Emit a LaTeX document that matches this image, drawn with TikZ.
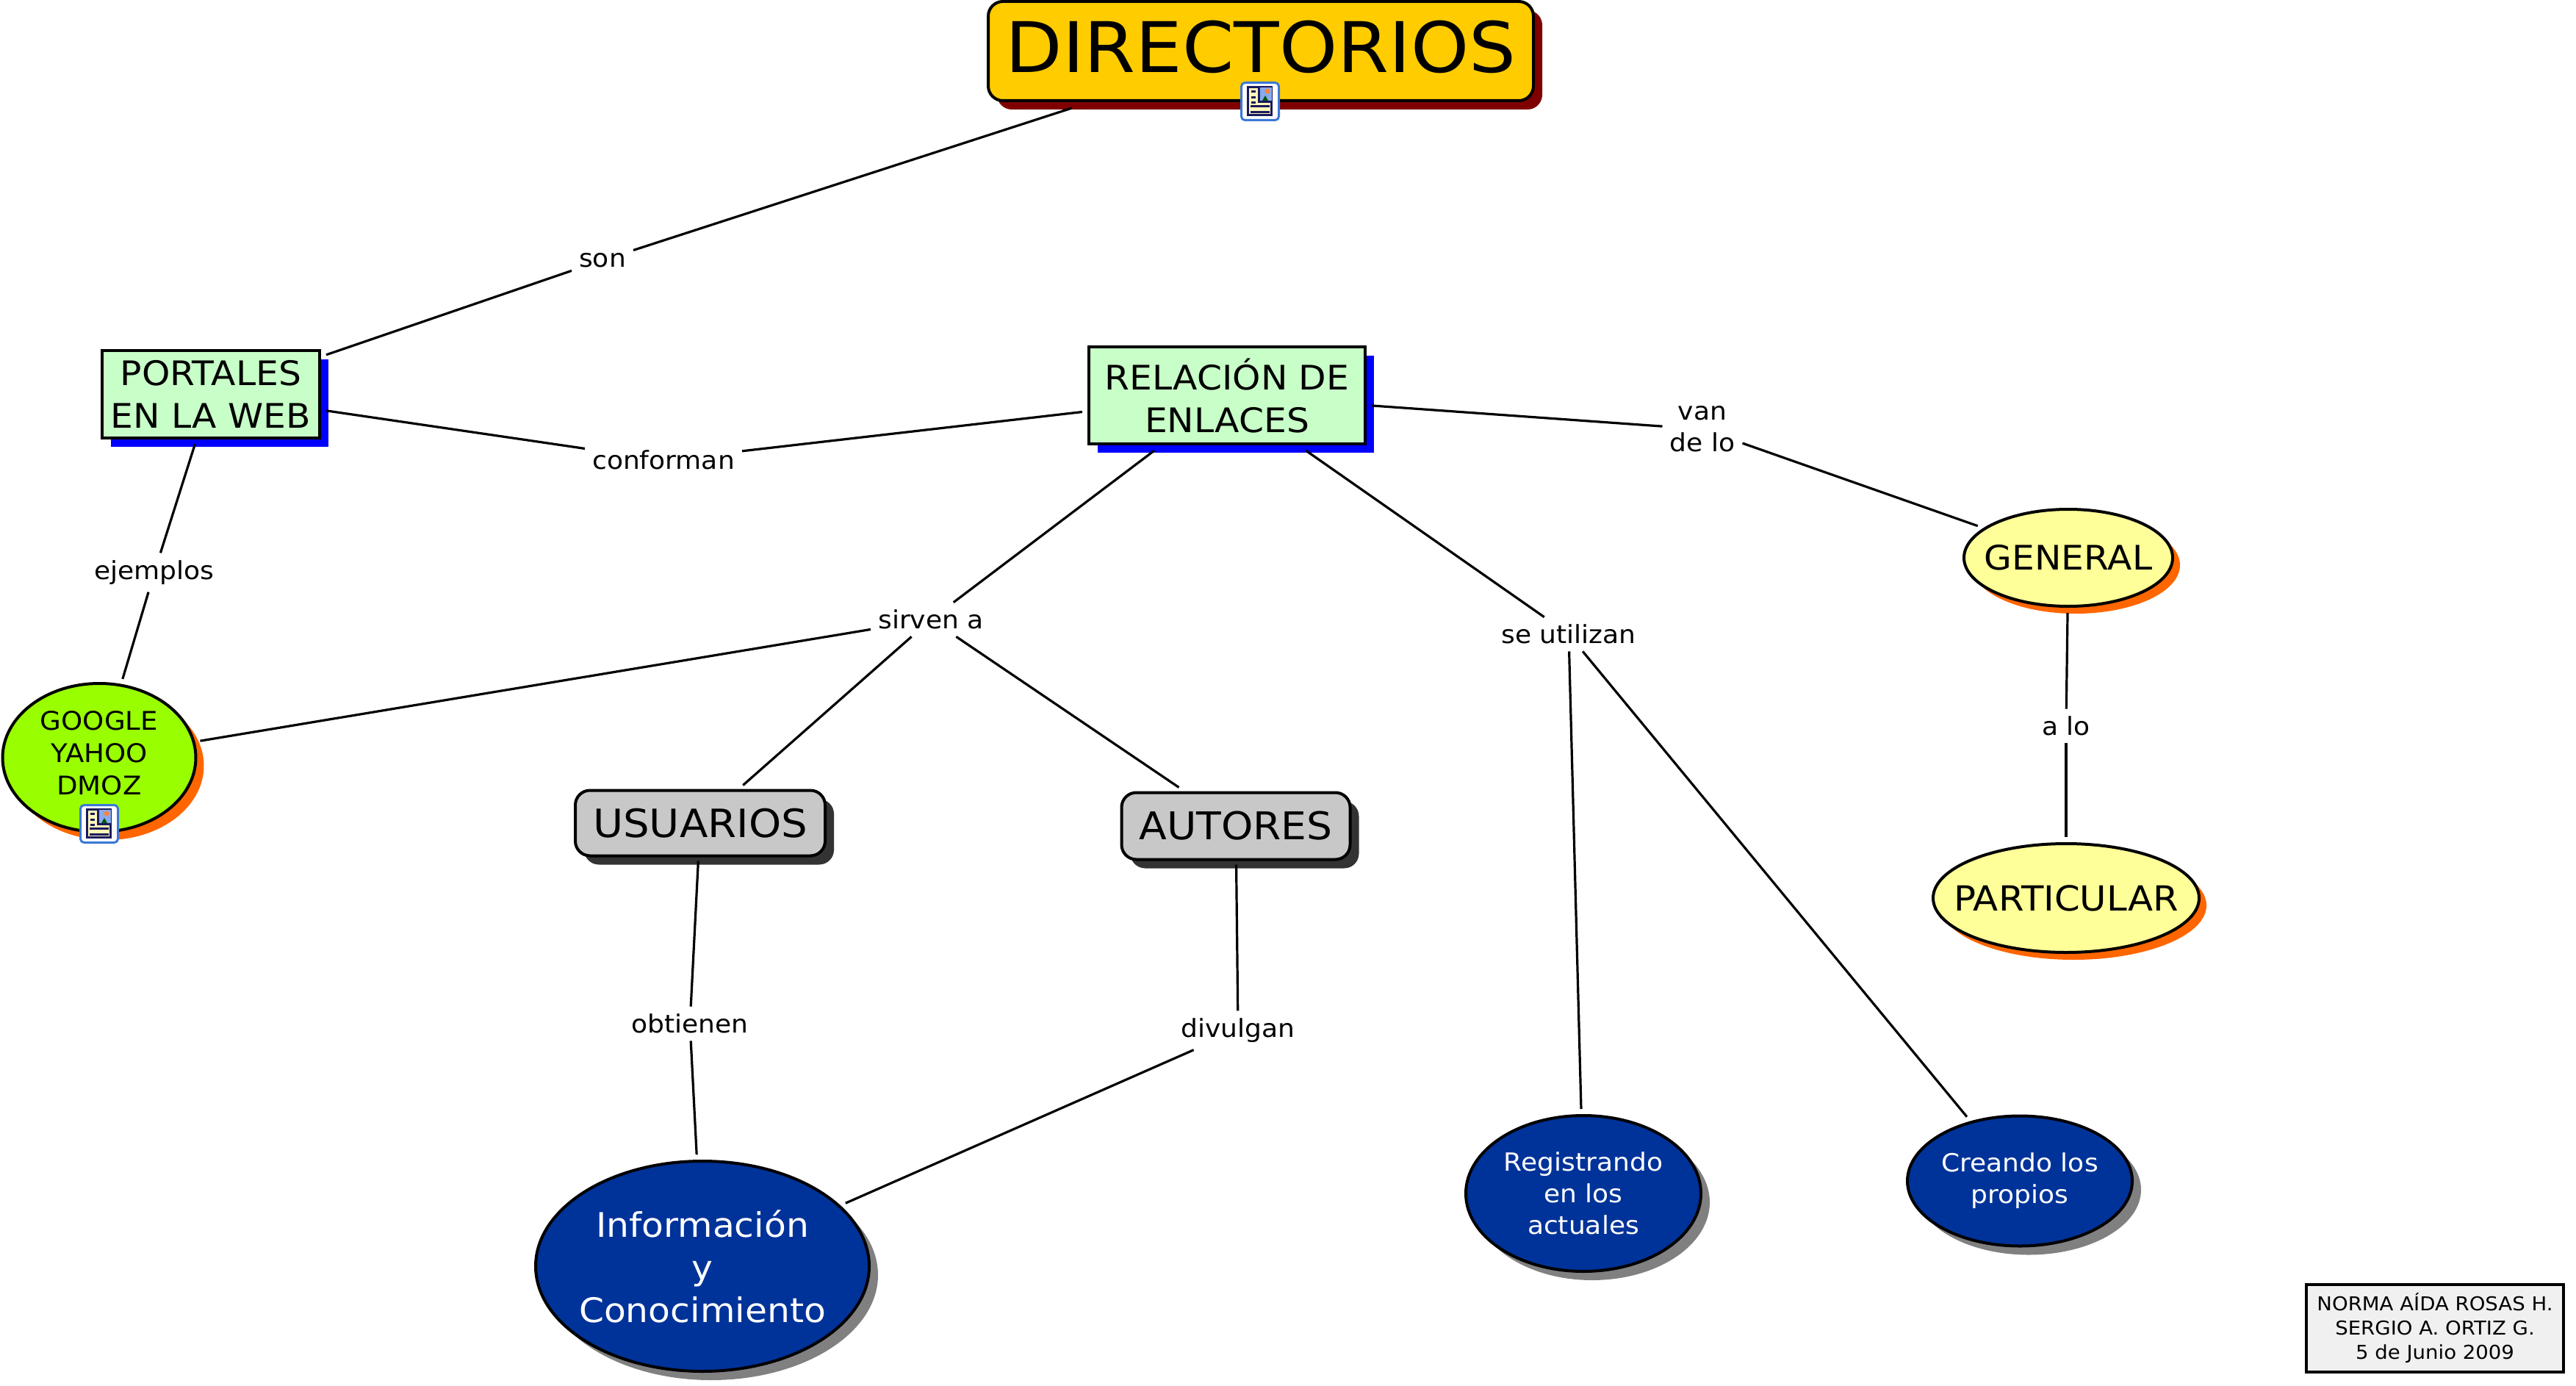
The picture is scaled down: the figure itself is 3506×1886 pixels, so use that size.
\documentclass[tikz,border=0pt]{standalone}
\usepackage{fontspec}
\setmainfont{DejaVu Sans}[FakeStretch=1.06]
\usetikzlibrary{shapes.geometric,shadows}
\definecolor{cGold}{HTML}{FFCC00}
\definecolor{cMaroon}{HTML}{7F0000}
\definecolor{cMint}{HTML}{C8FFC8}
\definecolor{cLime}{HTML}{99FF00}
\definecolor{cOrange}{HTML}{FF6600}
\definecolor{cPale}{HTML}{FFFF99}
\definecolor{cGrey}{HTML}{C8C8C8}
\definecolor{cDark}{HTML}{333333}
\definecolor{cNavy}{HTML}{003399}
\definecolor{cShade}{HTML}{808080}
\definecolor{cCredit}{HTML}{F0F0F0}
\definecolor{iFrame}{HTML}{3C78D8}
\definecolor{iInk}{HTML}{1A1A5E}
\definecolor{iPaper}{HTML}{FFF8B8}
\definecolor{iSky}{HTML}{88AAEE}
\newcommand\fsz[2][127]{\fontsize{#2}{\numexpr#2*#1/100\relax}\selectfont}
\newcommand\docicon[1]{%
  \begin{scope}[shift={(#1)}]
    \draw[iFrame,line width=3pt,fill=white,rounded corners=5pt] (1.5,1.5) rectangle (52.5,52.5);
    \fill[iInk] (9,6) rectangle (44,47);
    \fill[iPaper] (12,9) rectangle (41,44);
    \fill[iInk] (24,6) rectangle (44,29);
    \fill[iSky] (27,8) rectangle (43,26);
    \fill[cOrange!80!white] (37,13) circle (3.5);
    \fill[green!35!black] (30,26) -- (34,19) -- (38,26) -- cycle;
    \foreach \yy in {12,20,27} \fill[iInk] (15,\yy) rectangle (21,\yy+2.6);
    \foreach \yy in {32,40} \fill[iInk] (14,\yy) rectangle (40,\yy+2.6);
  \end{scope}}
\tikzset{
  x=1pt,y=-1pt,
  every node/.style={text=black,align=center},
  base/.style={draw=black,line width=4pt,outer sep=9pt,inner sep=0pt},
  box/.style={base,rectangle},
  rbox/.style={base,rectangle,rounded corners=20pt,outer sep=7pt},
  ell/.style={base,ellipse,inner xsep=-100pt,inner ysep=-40pt},
  shade/.style={general shadow={shadow xshift=#1,shadow yshift=-#1,fill=shcol}},
  lab/.style={font=\fsz{34},inner xsep=10pt,inner ysep=10pt},
  link/.style={draw=black,line width=3.2pt},
}
\colorlet{shcol}{black}
\begin{document}
\begin{tikzpicture}
\useasboundingbox (0,0) rectangle (3506,1886);
% concepts
\colorlet{shcol}{cMaroon}
\node[rbox,shade=12pt,fill=cGold,minimum width=742pt,minimum height=135pt,text depth=12pt,font=\fsz{95}] (dir) at (1716,69.5) {DIRECTORIOS};
\coordinate (dirfoot) at (1459,147);
\colorlet{shcol}{blue}
\node[box,shade=12pt,fill=cMint,minimum width=296pt,minimum height=119pt,font=\fsz{46}] (portales) at (287,536) {PORTALES\\EN LA WEB};
\node[box,shade=12pt,fill=cMint,minimum width=376pt,minimum height=132pt,font=\fsz{46}] (relacion) at (1670,538) {RELACIÓN DE\hspace{15pt}\\ENLACES};
\colorlet{shcol}{cOrange}
\node[ell,shade=11pt,fill=cLime,minimum width=263pt,minimum height=202pt,text depth=13pt,font=\fsz{35}] (google) at (135,1031) {GOOGLE\\YAHOO\\DMOZ};
\node[ell,shade=10pt,fill=cPale,minimum width=284pt,minimum height=132pt,font=\fsz{46}] (general) at (2815,759) {GENERAL};
\node[ell,shade=10pt,fill=cPale,minimum width=362pt,minimum height=148pt,font=\fsz{47}] (particular) at (2812,1222) {PARTICULAR};
\colorlet{shcol}{cDark}
\node[rbox,shade=12pt,fill=cGrey,minimum width=340pt,minimum height=89pt,font=\fsz{53}] (usuarios) at (953,1120) {USUARIOS};
\node[rbox,shade=12pt,fill=cGrey,minimum width=311pt,minimum height=91pt,font=\fsz{52}] (autores) at (1682,1124) {AUTORES};
\colorlet{shcol}{cShade}
\node[ell,shade=12pt,fill=cNavy,minimum width=454pt,minimum height=286pt,text=white,font=\fsz{46}] (info) at (956,1723) {Información\\y\\Conocimiento};
\node[ell,shade=12pt,fill=cNavy,minimum width=320pt,minimum height=212pt,text=white,font=\fsz{34}] (regis) at (2155,1624) {Registrando\\en los\\actuales};
\node[ell,shade=12pt,fill=cNavy,minimum width=306pt,minimum height=177pt,text=white,font=\fsz{34}] (creando) at (2749,1607) {Creando los\hspace{10pt}\\propios};
\node[box,fill=cCredit,minimum width=350pt,minimum height=119pt,font=\fsz{26}] (credit) at (3314,1807) {NORMA AÍDA ROSAS H.\\SERGIO A. ORTIZ G.\\5 de Junio 2009};
% linking phrases
\node[lab] (son) at (820,354) {son};
\node[lab] (conforman) at (903,626) {conforman};
\node[lab] (ejemplos) at (210,779) {ejemplos};
\node[lab] (sirven) at (1267,843) {sirven a};
\node[lab] (seutil) at (2135,863) {se utilizan};
\node[lab] (vande) at (2317,584) {van\\de lo};
\node[lab] (alo) at (2812,988) {a lo};
\node[lab] (obtienen) at (939,1393) {obtienen};
\node[lab] (divulgan) at (1685,1402) {divulgan};
% connectors
\draw[link] (dirfoot) -- (son);
\draw[link] (son) -- (portales);
\draw[link] (portales) -- (conforman);
\draw[link] (conforman) -- (relacion);
\draw[link] (portales) -- (ejemplos);
\draw[link] (ejemplos) -- (google);
\draw[link] (relacion) -- (sirven);
\draw[link] (sirven) -- (google);
\draw[link] (sirven) -- (usuarios);
\draw[link] (sirven) -- (autores);
\draw[link] (relacion) -- (seutil);
\draw[link] (seutil) -- (regis);
\draw[link] (seutil) -- (creando);
\draw[link] (relacion) -- (vande);
\draw[link] (vande) -- (general);
\draw[link] (general) -- (alo);
\draw[link] (alo) -- (particular);
\draw[link] (usuarios) -- (obtienen);
\draw[link] (obtienen) -- (info);
\draw[link] (autores) -- (divulgan);
\draw[link] (divulgan) -- (info);
% resource icons
\docicon{1688,111}
\docicon{108,1094}
\end{tikzpicture}
\end{document}
